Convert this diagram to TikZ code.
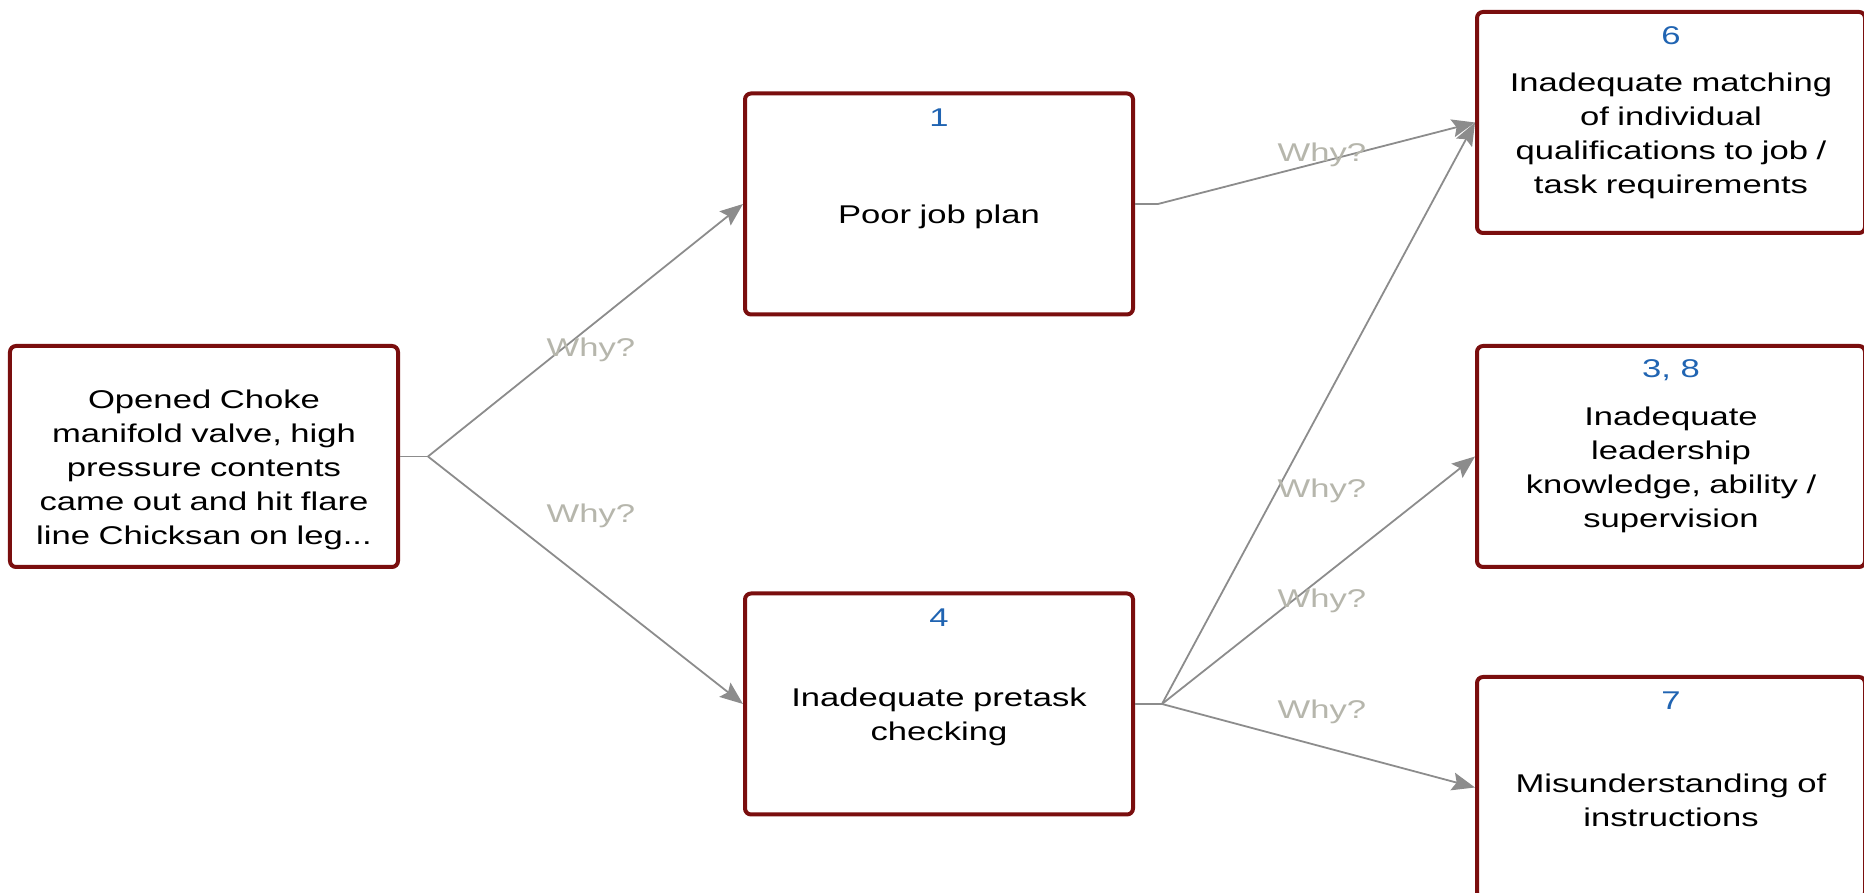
\documentclass[tikz,border=0pt]{standalone}
\usepackage{fontspec}
\setmainfont{Liberation Sans}
\newfontfamily\boxfont[FakeStretch=1.35]{Liberation Sans}
\usetikzlibrary{arrows.meta}
\definecolor{boxred}{RGB}{122,14,14}
\definecolor{numblue}{RGB}{32,100,178}
\definecolor{linegray}{RGB}{140,140,140}
\definecolor{whygray}{RGB}{182,182,172}
\tikzstyle{format}=[rectangle,draw=boxred,line width=0.4mm,rounded corners=0.6mm,fill=white,minimum width=38.8mm,minimum height=22.1mm,text width=35.5mm,align=center,font=\boxfont\fontsize{7.3pt}{9.7pt}\selectfont,execute at begin node={\rule{0pt}{4.5mm}}]
\tikzstyle{num}=[anchor=center,yshift=-2.6mm,inner sep=0pt,text=numblue,font=\boxfont\fontsize{7.3pt}{9.7pt}\selectfont]
\tikzstyle{link}=[draw=linegray,line width=0.18mm]
\tikzstyle{why}=[inner sep=0pt,text=whygray,font=\boxfont\fontsize{7.3pt}{9.7pt}\selectfont]

\begin{document}
\begin{tikzpicture}[>={Stealth[length=2.3mm,width=1.8mm,inset=0.4mm]}]
  \useasboundingbox (0,0) rectangle (186.4mm,-89.3mm);
  % event on the left, causes to the right
  \node[format] (event) at (20.4mm,-45.65mm){Opened Choke\\manifold valve, high\\pressure contents\\came out and hit flare\\line Chicksan on leg...};
  \node[format,label={[num]north:1}] (plan) at (93.9mm,-20.4mm){Poor job plan};
  \node[format,label={[num]north:4},below of=plan,node distance=50mm] (pretask){Inadequate pretask\\checking};
  \node[format,label={[num]north:6}] (matching) at (167.1mm,-12.25mm){Inadequate matching\\of individual\\qualifications to job /\\task requirements};
  \node[format,label={[num]north:{3, 8}},below of=matching,node distance=33.4mm] (leader){Inadequate\\leadership\\knowledge, ability /\\supervision};
  \node[format,label={[num]north:7},below of=leader,node distance=33.1mm] (instruct){Misunderstanding of\\instructions};
  % fork points
  \coordinate (f0) at ([xshift=2.8mm]event.east);
  \coordinate (f1) at ([xshift=2.3mm]plan.east);
  \coordinate (f2) at ([xshift=2.7mm]pretask.east);
  \draw[link] (event.east)--(f0);
  \draw[link,->] (f0)--node[why,pos=0.517,yshift=-2.4mm]{Why?}(plan.west);
  \draw[link,->] (f0)--node[why,pos=0.517,yshift=6.9mm]{Why?}(pretask.west);
  \draw[link] (plan.east)--(f1);
  \draw[link,->] (f1)--node[why,pos=0.517,yshift=0.7mm]{Why?}(matching.west);
  \draw[link] (pretask.east)--(f2);
  \draw[link,->] (f2)--node[why,pos=0.511,yshift=-8.4mm]{Why?}(matching.west);
  \draw[link,->] (f2)--node[why,pos=0.511,yshift=-2.3mm]{Why?}(leader.west);
  \draw[link,->] (f2)--node[why,pos=0.511,yshift=3.5mm]{Why?}(instruct.west);
\end{tikzpicture}
\end{document}
